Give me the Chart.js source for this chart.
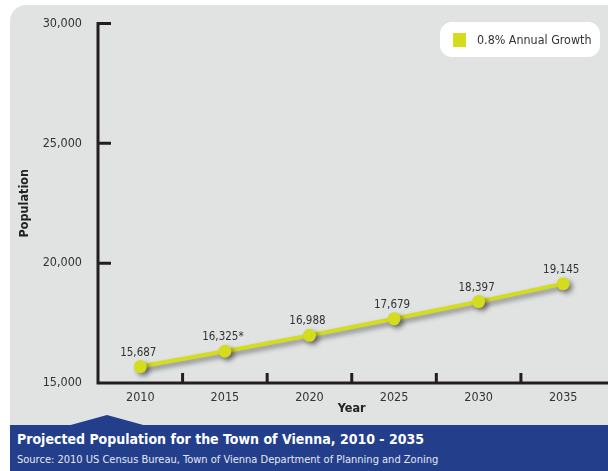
<!DOCTYPE html>
<html>
<head>
<meta charset="utf-8">
<script src="https://cdn.jsdelivr.net/npm/chart.js@4.4.0/dist/chart.umd.min.js"></script>
<style>
  body { margin: 0; background: #fff; overflow: hidden; font-family: "DejaVu Sans Condensed", "DejaVu Sans", sans-serif; }
  #wrap { position: relative; width: 608px; height: 471px; overflow: hidden; }
  #panel { position: absolute; left: 10px; top: 5px; width: 598px; height: 420px; background: #e1e2e2; border-top-left-radius: 16px; }
  #chart-box { position: absolute; left: 0; top: 0; width: 612px; height: 425px; }
  #legend { position: absolute; left: 440px; top: 22px; width: 160px; height: 35px; background: #fff; border-radius: 12px; }
  #legend .swatch { position: absolute; left: 13px; top: 11px; width: 13px; height: 14px; }
  #legend .label { position: absolute; left: 37px; top: 0; line-height: 35px; font-size: 12.4px; color: #333; white-space: nowrap; }
  #pointer { position: absolute; left: 67px; top: 415px; width: 80px; height: 11px; background: #233f8c; clip-path: polygon(0 100%, 50% 0, 100% 100%); }
  #banner { position: absolute; left: 10px; top: 425px; width: 598px; height: 46px; background: #233f8c; color: #fff; }
  #banner .title { position: absolute; left: 7px; top: 6px; font-size: 14px; font-weight: bold; white-space: nowrap; }
  #banner .source { position: absolute; left: 7px; top: 28px; font-size: 11px; color: #e6e8f2; white-space: nowrap; }
</style>
</head>
<body>
<div id="wrap">
  <div id="panel"></div>
  <div id="chart-box"><canvas id="chart" width="612" height="425"></canvas></div>
  <div id="legend"><div class="swatch"></div><div class="label"></div></div>
  <div id="pointer"></div>
  <div id="banner">
    <div class="title">Projected Population for the Town of Vienna, 2010 - 2035</div>
    <div class="source">Source: 2010 US Census Bureau, Town of Vienna Department of Planning and Zoning</div>
  </div>
</div>
<script>
// Data
const years = ['2010', '2015', '2020', '2025', '2030', '2035'];
const population = [15687, 16325, 16988, 17679, 18397, 19145];
const notes = ['', '*', '', '', '', ''];
const seriesLabel = '0.8% Annual Growth';
const yMin = 15000;
const yMax = 30000;
const yStep = 5000;

const lineColor = '#d3dc1d';
const axisColor = '#231f20';

// Legend (html)
document.querySelector('#legend .swatch').style.background = lineColor;
document.querySelector('#legend .label').textContent = seriesLabel;

// Axis lines with the thick inward ticks
const axesLines = {
  id: 'axesLines',
  beforeDatasetsDraw(chart) {
    const { ctx, chartArea, scales: { x, y } } = chart;
    const left = chartArea.left, bottom = chartArea.bottom;
    ctx.save();
    ctx.strokeStyle = axisColor;
    ctx.lineWidth = 3;
    ctx.lineJoin = 'miter';
    ctx.beginPath();
    const top = y.getPixelForValue(yMax);
    ctx.moveTo(left + 13, top);
    ctx.lineTo(left, top);
    ctx.lineTo(left, bottom);
    ctx.lineTo(chart.width, bottom);
    y.ticks.forEach(t => {
      if (t.value > yMin && t.value < yMax) {
        const py = y.getPixelForValue(t.value);
        ctx.moveTo(left, py);
        ctx.lineTo(left + 13, py);
      }
    });
    for (let i = 0; i < years.length - 1; i++) {
      const px = (x.getPixelForValue(i) + x.getPixelForValue(i + 1)) / 2;
      ctx.moveTo(px, bottom);
      ctx.lineTo(px, bottom - 10);
    }
    ctx.stroke();
    ctx.restore();
  }
};

// Soft drop shadow under the line and points
const shadow = {
  id: 'shadow',
  beforeDatasetsDraw(chart) {
    const ctx = chart.ctx;
    ctx.save();
    ctx.shadowColor = 'rgba(0,0,0,0.45)';
    ctx.shadowBlur = 5;
    ctx.shadowOffsetX = 3;
    ctx.shadowOffsetY = 3;
  },
  afterDatasetsDraw(chart) {
    chart.ctx.restore();
  }
};

// Value labels above points
const valueLabels = {
  id: 'valueLabels',
  afterDatasetsDraw(chart) {
    const ctx = chart.ctx;
    const meta = chart.getDatasetMeta(0);
    ctx.save();
    ctx.font = '11.5px "DejaVu Sans Condensed", "DejaVu Sans", sans-serif';
    ctx.fillStyle = '#333';
    ctx.textAlign = 'center';
    ctx.textBaseline = 'middle';
    meta.data.forEach((pt, i) => {
      ctx.fillText(population[i].toLocaleString('en-US') + notes[i], pt.x - 2, pt.y - 14);
    });
    ctx.restore();
  }
};

Chart.defaults.font.family = '"DejaVu Sans Condensed", "DejaVu Sans", sans-serif';
Chart.defaults.color = '#333';

new Chart(document.getElementById('chart'), {
  type: 'line',
  data: {
    labels: years,
    datasets: [{
      label: seriesLabel,
      data: population,
      borderColor: lineColor,
      backgroundColor: lineColor,
      borderWidth: 4,
      pointRadius: 6.5,
      pointBorderWidth: 0,
      pointBackgroundColor: lineColor,
      tension: 0,
      fill: false
    }]
  },
  options: {
    responsive: false,
    animation: false,
    layout: { padding: { top: 22, right: 0, bottom: 0, left: 0 } },
    plugins: { legend: { display: false }, tooltip: { enabled: false } },
    scales: {
      x: {
        offset: true,
        grid: { display: false, drawTicks: false },
        border: { display: false },
        ticks: { padding: 7, font: { size: 12.5 }, color: '#333' },
        title: { display: true, text: 'Year', font: { size: 12.5, weight: 'bold' }, color: '#222', padding: { top: 0, bottom: 9 } },
        afterFit(s) { s.height = 42; }
      },
      y: {
        min: yMin,
        max: yMax,
        grid: { display: false, drawTicks: false },
        border: { display: false },
        ticks: { stepSize: yStep, padding: 16, font: { size: 12.5 }, color: '#333', callback: v => v.toLocaleString('en-US') },
        title: { display: true, text: 'Population', font: { size: 12.5, weight: 'bold' }, color: '#222', padding: { top: 17, bottom: 0 } },
        afterFit(s) { s.width = 98; }
      }
    }
  },
  plugins: [axesLines, shadow, valueLabels]
});
</script>
</body>
</html>
